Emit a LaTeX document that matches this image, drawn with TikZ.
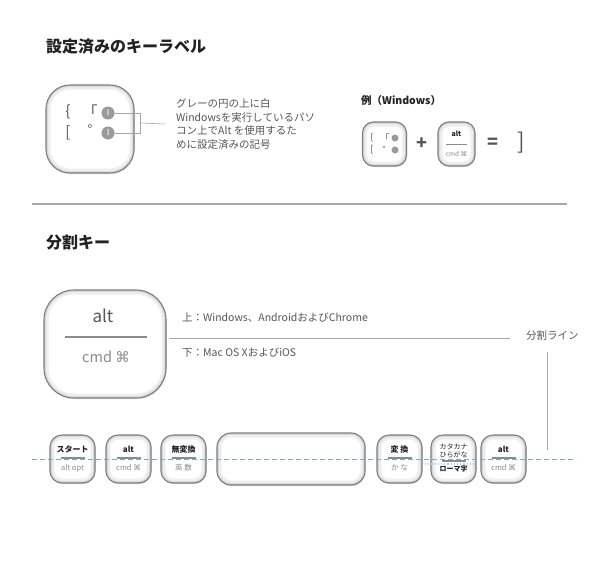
\documentclass[tikz,border=0pt]{standalone}
\usepackage{fontspec}
\setmainfont{Noto Sans CJK JP}
\newfontfamily\symfont{DejaVu Sans}
\usetikzlibrary{positioning,calc,shadows}
\definecolor{ink}{HTML}{222222}
\definecolor{txtgray}{HTML}{555555}
\definecolor{softgray}{HTML}{8C8C8C}
\definecolor{keyline}{HTML}{7D7D7D}
\definecolor{keyshade}{HTML}{DADADA}
\definecolor{keyhalo}{HTML}{EFEFEF}
\definecolor{rulegray}{HTML}{A8A8A8}
\definecolor{dotgray}{HTML}{9A9A9A}
\definecolor{splitblue}{HTML}{7FA9CC}
\newcommand{\cmdsym}{cmd {\symfont ⌘}}
\tikzset{
  every node/.style={text=ink, inner sep=0pt},
  heading/.style={font=\bfseries\fontsize{16}{18}\selectfont, anchor=west},
  note/.style={font=\fontsize{10.5}{13.5}\selectfont, text=txtgray, anchor=west, align=left},
  keycap/.style={draw=keyline, line width=1.1pt, rounded corners=#1, fill=white,
    path picture={
      \draw[keyhalo, line width=9pt, rounded corners=#1] (path picture bounding box.south west) rectangle (path picture bounding box.north east);
      \draw[keyshade, line width=4pt, rounded corners=#1] (path picture bounding box.south west) rectangle (path picture bounding box.north east);
    },
    drop shadow={shadow xshift=0.6pt, shadow yshift=-1.2pt, opacity=0.25}},
  keycap/.default=12pt,
  glyph/.style={font=\fontsize{#1}{#1}\selectfont, text=txtgray},
  dot/.style={circle, fill=dotgray, minimum size=#1, text=white, font=\fontsize{6}{6}\selectfont\bfseries},
  keytop/.style={font=\bfseries\fontsize{8}{9}\selectfont, text=ink},
  keybot/.style={font=\fontsize{7.5}{8}\selectfont, text=softgray},
  keybar/.style={draw=softgray, line width=1.6pt},
  thin/.style={draw=rulegray, line width=0.6pt},
  splitline/.style={draw=splitblue, line width=0.8pt, dash pattern=on 5pt off 3pt},
}
\begin{document}
\begin{tikzpicture}[x=1pt,y=-1pt]
\useasboundingbox (0,0) rectangle (612,568);
% preset key label
\node[heading] (t1) at (46,47) {設定済みのキーラベル};
\node[keycap=24pt, minimum width=88pt, minimum height=88pt] (preset) at (90,129) {};
\node[glyph=15] (pa) at (68,112) {\{};
\node[glyph=15] (pb) at (90,111) {「};
\node[glyph=15] (pc) at (68,133) {[};
\node[glyph=13] (pd) at (90,130) {°};
\node[dot=13pt] (c1) at (108,113) {\}};
\node[dot=13pt] (c2) at (108,133) {]};
\coordinate (br) at (140,123);
\draw[thin] (c1) -- (c1 -| br) -- (c2 -| br) -- (c2);
\node[note] (desc) at (176,124) {グレーの円の上に白\\Windowsを実行しているパソ\\コン上でAlt を使用するた\\めに設定済みの記号};
\draw[thin] (br) -- (desc.west -| 165,0);
% example
\node[font=\bfseries\fontsize{10.5}{12}\selectfont, anchor=west] (ex) at (361,101) {例（Windows）};
\node[keycap=11pt, minimum width=44pt, minimum height=44pt] (exa) at (384.5,144) {};
\node[glyph=9] at (372,138) {\{};
\node[glyph=9] at (385,138) {「};
\node[glyph=9] at (372,150) {[};
\node[glyph=8] at (384,149) {°};
\node[dot=7pt, font=\tiny] at (395,138) {};
\node[dot=7pt, font=\tiny] at (395,150) {};
\node[font=\bfseries\fontsize{18}{18}\selectfont, text=txtgray] (plus) at (422,144) {+};
\node[keycap=11pt, minimum width=37pt, minimum height=44pt] (exb) at (456.5,144) {};
\node[keytop, font=\bfseries\fontsize{7}{8}\selectfont] at (456.5,134) {alt};
\draw[keybar, line width=1pt] (446,144) -- (467,144);
\node[keybot, font=\fontsize{6.5}{7}\selectfont] at (456.5,154) {\cmdsym};
\node[font=\bfseries\fontsize{18}{18}\selectfont, text=txtgray] (eq) at (493,143) {=};
\node[font=\fontsize{22}{22}\selectfont, text=txtgray] (res) at (521,143) {]};
\draw[rulegray, line width=1.5pt] (32,204) -- (567,204);
% split key
\node[heading] (t2) at (46,243) {分割キー};
\node[keycap=30pt, minimum width=122pt, minimum height=108pt] (big) at (105,344) {};
\node[font=\fontsize{17}{18}\selectfont, text=txtgray] (bigtop) at (103,316) {alt};
\draw[keybar, line width=1.4pt] (65,337) -- (147,337);
\node[font=\fontsize{14.5}{16}\selectfont, text=softgray] (bigbot) at (106,357) {\cmdsym};
\node[note] (up) at (182,318) {上：Windows、AndroidおよびChrome};
\node[note] (down) at (182,353) {下：Mac OS XおよびiOS};
\node[note] (split) at (526,336) {分割ライン};
\coordinate (le) at (510,338);
\coordinate (vtop) at (547,352);
\coordinate (vbot) at (547,450);
\draw[thin] ([xshift=2pt]big.east |- le) -- (le);
\draw[thin, line width=0.9pt] (vtop) -- (vbot);
% key row
\foreach \x/\ktop/\kbot/\n in {72.5/スタート/alt opt/ka, 128.5/alt/\cmdsym/kb, 183.5/無変換/英 数/kc, 399.5/変 換/か な/ke, 503.5/alt/\cmdsym/kg}{
  \node[keycap=12pt, minimum width=45pt, minimum height=48pt] (\n) at (\x,459) {};
  \node[keytop] at (\x,449) {\ktop};
  \draw[keybar] (\x-12,458) -- (\x+12,458);
  \node[keybot] at (\x,468) {\kbot};
}
\node[keycap=14pt, minimum width=148pt, minimum height=52pt] (space) at (291,459) {};
\node[keycap=12pt, minimum width=45pt, minimum height=48pt] (kf) at (453.5,459) {};
\node[keytop, font=\fontsize{7}{8}\selectfont, align=center] at (453.5,451) {カタカナ\\ひらがな};
\draw[keybar] (441.5,461) -- (465.5,461);
\node[keytop, font=\bfseries\fontsize{7}{8}\selectfont] at (453.5,469) {ローマ字};
\draw[splitline] (32,459) -- (576,459);
\draw[splitblue!60, line width=1.2pt, dotted] (425,464) -- (476,464);
\end{tikzpicture}
\end{document}
